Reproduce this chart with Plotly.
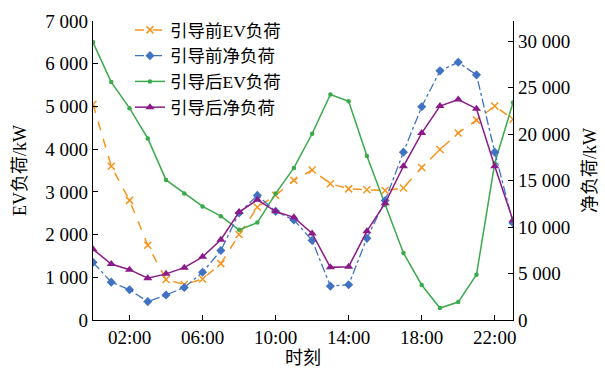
import plotly.graph_objects as go

hours = list(range(24))
x_tickvals = [2, 6, 10, 14, 18, 22]
x_ticktext = ["02:00", "06:00", "10:00", "14:00", "18:00", "22:00"]

ev_before = [5050, 3600, 2800, 1750, 950, 830, 960, 1320, 2000, 2640, 2920, 3270,
             3510, 3190, 3070, 3050, 3030, 3090, 3570, 3990, 4380, 4680, 5010, 4700]
net_before = [6200, 4070, 3260, 1980, 2690, 3500, 5130, 7470, 11500, 13400, 11680, 10760,
              8560, 3640, 3790, 8780, 12850, 18050, 22930, 26790, 27710, 26360, 18050, 10440]
ev_after = [6500, 5570, 4960, 4250, 3280, 2960, 2660, 2430, 2110, 2280, 2960, 3560,
            4360, 5280, 5120, 3840, 2690, 1570, 820, 280, 420, 1060, 3670, 5090]
net_after = [7610, 6020, 5410, 4490, 4960, 5630, 6790, 8630, 11600, 12920, 11680, 11040,
             9310, 5660, 5730, 9550, 12560, 16530, 20100, 23000, 23710, 22720, 16530, 10720]

FONT = "Liberation Serif, Times New Roman, Noto Sans CJK SC"
C_OR = "#F7941D"
C_BL = "#3F73C2"
C_GR = "#3BAA4B"
C_PU = "#8A1B88"

fig = go.Figure()
fig.add_trace(go.Scatter(x=hours, y=ev_before, name="引导前EV负荷", mode="lines+markers",
                         line=dict(color=C_OR, width=1.5, dash="dash"),
                         marker=dict(symbol="x-thin", size=7, line=dict(color=C_OR, width=1.5))))
fig.add_trace(go.Scatter(x=hours, y=net_before, name="引导前净负荷", mode="lines+markers", yaxis="y2",
                         line=dict(color=C_BL, width=1.3, dash="dashdot"),
                         marker=dict(symbol="diamond", size=7, color=C_BL)))
fig.add_trace(go.Scatter(x=hours, y=ev_after, name="引导后EV负荷", mode="lines+markers",
                         line=dict(color=C_GR, width=1.5),
                         marker=dict(symbol="circle", size=4.5, color=C_GR)))
fig.add_trace(go.Scatter(x=hours, y=net_after, name="引导后净负荷", mode="lines+markers", yaxis="y2",
                         line=dict(color=C_PU, width=1.5),
                         marker=dict(symbol="triangle-up", size=8, color=C_PU)))

TF = 19
axis_common = dict(showgrid=False, zeroline=False, showline=True, linecolor="black", linewidth=1.2,
                   ticks="inside", ticklen=5, tickcolor="black", automargin=False,
                   tickfont=dict(family=FONT, size=TF, color="black"))

fig.update_layout(
    width=605, height=368,
    margin=dict(l=93, r=92, t=17, b=48),
    plot_bgcolor="white", paper_bgcolor="white",
    separators=". ",
    font=dict(family=FONT, color="black"),
    showlegend=True,
    legend=dict(x=0.088, y=1.03, xanchor="left", yanchor="top", bgcolor="rgba(0,0,0,0)",
                font=dict(family=FONT, size=17.5, color="black"), tracegroupgap=0, itemwidth=30),
    xaxis=dict(range=[0, 23], tickvals=x_tickvals, ticktext=x_ticktext, ticklabelstandoff=0,
               **axis_common),
    yaxis=dict(range=[0, 7000], dtick=1000, separatethousands=True, exponentformat="none",
               title=dict(text="EV负荷/kW", font=dict(family=FONT, size=18), standoff=14), **axis_common),
    yaxis2=dict(range=[0, 32150], tickvals=[0, 5000, 10000, 15000, 20000, 25000, 30000],
                separatethousands=True, exponentformat="none", overlaying="y", side="right",
                title=dict(text="净负荷/kW", font=dict(family=FONT, size=18), standoff=14), **axis_common),
    annotations=[dict(text="时刻", xref="paper", yref="paper", x=0.5, y=-0.158,
                      xanchor="center", yanchor="bottom", showarrow=False, yshift=-3,
                      font=dict(family=FONT, size=18, color="black"))],
)

fig.write_html("out.html")
